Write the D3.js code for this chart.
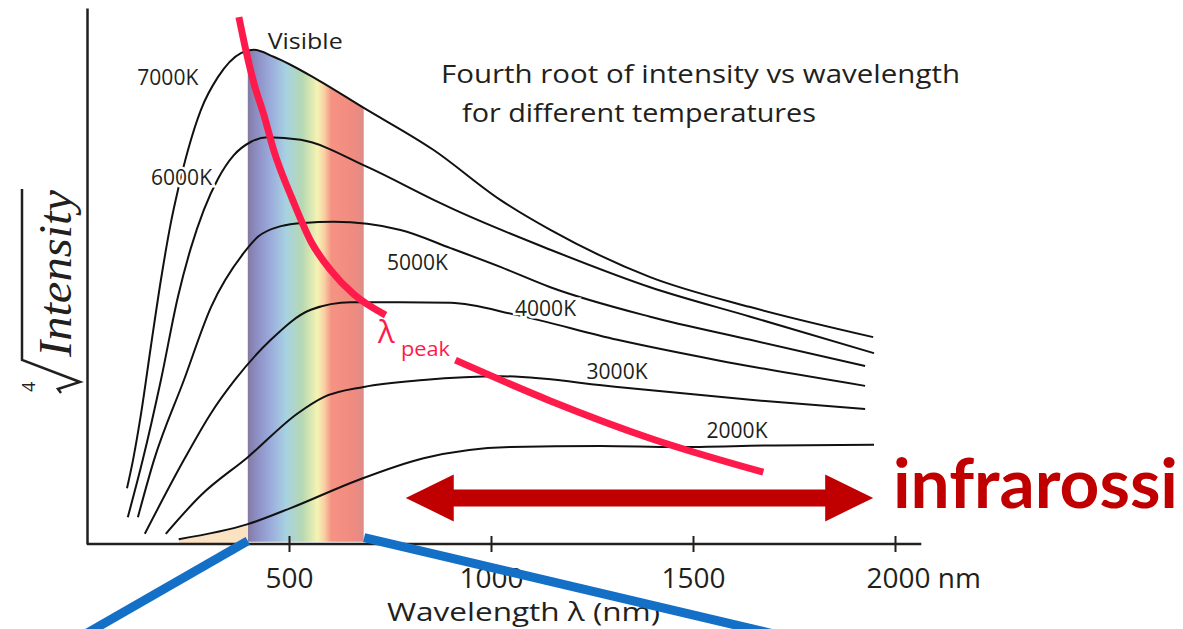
<!DOCTYPE html>
<html>
<head>
<meta charset="utf-8">
<script src="https://cdn.jsdelivr.net/npm/d3@7"></script>
<style>
  body { margin: 0; background: #fff; }
  svg { display: block; }
</style>
</head>
<body>
<svg id="chart" width="1183" height="629"></svg>
<script>
// Fourth root of intensity vs wavelength
// each point is [wavelength nm, relative 4th-root intensity 0..100]
const curve7000 = [[99,10.4],[114,15.7],[134,24.4],[158,36.8],[183,49.3],[208,60.1],[225,66.0],[250,73.5],[282,81.0],[324,87.1],[381,91.6],[413,92.2],[462,90.9],[571,86.6],[682,81.5],[858,73.5],[1023,64.2],[1147,58.6],[1394,49.8],[1642,44.2],[1946,38.6]];
const curve6000 = [[101,5.0],[138,15.7],[183,30.6],[225,46.1],[257,55.2],[289,62.3],[324,68.1],[363,72.5],[405,75.0],[447,75.9],[529,75.4],[695,70.3],[858,64.2],[900,62.7],[1147,54.9],[1394,47.9],[1642,42.4],[1948,35.6]];
const curve5000 = [[126,5.0],[166,15.7],[240,30.6],[307,44.2],[388,54.3],[423,57.3],[480,59.3],[536,59.9],[611,60.1],[776,58.6],[900,55.2],[1023,51.7],[1147,47.9],[1394,42.4],[1642,38.1],[1926,33.2]];
const curve4000 = [[143,1.9],[240,15.7],[307,24.4],[366,30.6],[455,38.1],[554,43.7],[653,45.1],[776,45.1],[900,45.0],[1065,42.7],[1313,38.1],[1560,34.3],[1926,29.5]];
const curve3000 = [[195,1.9],[282,9.1],[398,16.2],[522,24.4],[586,27.4],[685,29.3],[833,30.6],[1023,31.3],[1313,29.3],[1642,26.9],[1926,25.2]];
const curve2000 = [[227,0.9],[398,3.7],[504,6.7],[670,11.9],[833,16.0],[1048,18.1],[1271,18.3],[1459,18.1],[1700,18.4],[1948,18.5]];

const temperatures = ['7000K', '6000K', '5000K', '4000K', '3000K', '2000K'];
const curves = [curve7000, curve6000, curve5000, curve4000, curve3000, curve2000];
// where each temperature label sits: [wavelength, value] of its baseline centre
const labelAnchors = [[200,85.6],[234,67.0],[818,51.1],[1135,42.5],[1312,30.8],[1609,19.8]];

// peak wavelength locus, drawn in two pieces around the lambda_peak label
const peakUpper = [[376,98.3],[393,92.2],[413,86.0],[438,80.0],[462,73.5],[509,64.2],[556,56.2],[603,51.1],[660,46.6],[739,42.7]];
const peakLower = [[912,34.3],[1147,26.7],[1399,19.6],[1674,13.4]];

const visibleRange = [398, 685];
const xTicks = [500, 1000, 1500, 2000];
const xAxisEnd = 2065;
const infraredArrow = [789, 1946];
const infraredLevel = 8.6;
// zoom lines from the visible band down to the page edge
const zoomLeft = [[398,0.6],[-20,-17.5]];
const zoomRight = [[686,1.2],[1740,-17.5]];

const svg = d3.select('#chart');
const font = "'Open Sans', 'DejaVu Sans', sans-serif";
const ink = '#221f1c';

const x = d3.scaleLinear().domain([0, 2000]).range([87, 895]);
const y = d3.scaleLinear().domain([0, 100]).range([544, 8]);

const defs = svg.append('defs');
const grad = defs.append('linearGradient').attr('id', 'spectrum')
  .attr('gradientUnits', 'userSpaceOnUse')
  .attr('x1', x(visibleRange[0])).attr('x2', x(visibleRange[1]))
  .attr('y1', 0).attr('y2', 0);
[[0, '#837aa3'], [0.08, '#8e8fc4'], [0.2, '#9cacdc'], [0.33, '#a7d2e2'], [0.47, '#b6d8b2'],
 [0.6, '#f5f3b3'], [0.66, '#f9cfa3'], [0.72, '#f59383'], [0.9, '#f18b80'], [1, '#e08c88']]
  .forEach(function (s) { grad.append('stop').attr('offset', s[0]).attr('stop-color', s[1]); });

defs.append('clipPath').attr('id', 'visClip').append('rect')
  .attr('x', x(visibleRange[0])).attr('width', x(visibleRange[1]) - x(visibleRange[0]))
  .attr('y', 0).attr('height', 629);
defs.append('clipPath').attr('id', 'uvClip').append('rect')
  .attr('x', x(curve2000[0][0])).attr('width', x(visibleRange[0]) - x(curve2000[0][0]))
  .attr('y', 0).attr('height', 629);

const smooth = d3.curveMonotoneX;
const line = d3.line().x(function (d) { return x(d[0]); }).y(function (d) { return y(d[1]); }).curve(smooth);
const bandArea = d3.area().x(function (d) { return x(d[0]); }).y0(y(0.4)).y1(function (d) { return y(d[1]); }).curve(smooth);

// visible spectrum under the hottest curve
svg.append('path').datum(curve7000)
  .attr('clip-path', 'url(#visClip)')
  .attr('fill', 'url(#spectrum)')
  .attr('d', bandArea);

// faint peach patch under the 2000K curve left of the band
svg.append('path').datum(curve2000)
  .attr('clip-path', 'url(#uvClip)')
  .attr('fill', '#fbe2c3')
  .attr('d', d3.area().x(function (d) { return x(d[0]); }).y0(y(0.2)).y1(function (d) { return y(d[1]); }).curve(smooth));

// axes
const xAxis = svg.append('g')
  .attr('transform', `translate(0,${y(0)})`)
  .call(d3.axisBottom(x).tickValues(xTicks).tickSize(8).tickFormat(function (d) { return d === 2000 ? '2000 nm' : d; }));
xAxis.select('.domain').remove();
xAxis.selectAll('.tick line').attr('y1', -8).attr('y2', 8).attr('stroke', ink).attr('stroke-width', 2);
xAxis.selectAll('.tick text')
  .attr('y', 44).attr('dy', 0)
  .attr('fill', ink)
  .style('font-family', font).style('font-size', '28px')
  .attr('text-anchor', function (d) { return d === 2000 ? 'start' : 'middle'; })
  .attr('x', function (d) { return d === 2000 ? -29 : 0; });

svg.append('line')
  .attr('x1', x(0)).attr('x2', x(xAxisEnd))
  .attr('y1', y(0)).attr('y2', y(0))
  .attr('stroke', ink).attr('stroke-width', 2.5);

const yAxis = svg.append('g')
  .attr('transform', `translate(${x(0)},0)`)
  .call(d3.axisLeft(y).tickValues([]).tickSizeOuter(0));
yAxis.select('.domain').attr('stroke', ink).attr('stroke-width', 2.5);

// temperature curves
svg.selectAll('.temp')
  .data(curves)
  .enter().append('path')
  .attr('class', 'temp')
  .attr('fill', 'none')
  .attr('stroke', '#111')
  .attr('stroke-width', 2)
  .attr('d', line);

// peak locus
[peakUpper, peakLower].forEach(function (seg) {
  svg.append('path').datum(seg)
    .attr('fill', 'none')
    .attr('stroke', '#ff1a4c')
    .attr('stroke-width', 7)
    .attr('d', line);
});

// temperature labels, with a white knockout like the original
svg.selectAll('.tlabel')
  .data(temperatures)
  .enter().append('text')
  .attr('class', 'tlabel')
  .attr('x', function (d, i) { return x(labelAnchors[i][0]); })
  .attr('y', function (d, i) { return y(labelAnchors[i][1]); })
  .attr('text-anchor', 'middle')
  .attr('textLength', 61).attr('lengthAdjust', 'spacingAndGlyphs')
  .style('font-family', font).style('font-size', '21px')
  .attr('fill', ink)
  .attr('stroke', '#fff').attr('stroke-width', 5).attr('paint-order', 'stroke')
  .text(function (d) { return d; });

svg.append('text')
  .attr('x', x(540)).attr('y', y(92.4))
  .attr('text-anchor', 'middle')
  .attr('textLength', 75).attr('lengthAdjust', 'spacingAndGlyphs')
  .style('font-family', font).style('font-size', '22px')
  .attr('fill', ink)
  .text('Visible');

svg.append('text')
  .attr('x', x(720)).attr('y', y(37.5))
  .style('font-family', font).style('font-size', '31px')
  .attr('fill', '#ff1a4c')
  .text('λ');
svg.append('text')
  .attr('x', x(777)).attr('y', y(35.1))
  .attr('textLength', 49).attr('lengthAdjust', 'spacingAndGlyphs')
  .style('font-family', font).style('font-size', '20px')
  .attr('fill', '#ff1a4c')
  .text('peak');

// title
svg.append('text')
  .attr('x', 441).attr('y', 83)
  .attr('textLength', 519).attr('lengthAdjust', 'spacingAndGlyphs')
  .style('font-family', font).style('font-size', '25px')
  .attr('fill', ink)
  .text('Fourth root of intensity vs wavelength');
svg.append('text')
  .attr('x', 462).attr('y', 122)
  .attr('textLength', 354).attr('lengthAdjust', 'spacingAndGlyphs')
  .style('font-family', font).style('font-size', '25px')
  .attr('fill', ink)
  .text('for different temperatures');

// x axis title
svg.append('text')
  .attr('x', 387).attr('y', 621)
  .attr('textLength', 273).attr('lengthAdjust', 'spacingAndGlyphs')
  .style('font-family', font).style('font-size', '25px')
  .attr('fill', ink)
  .text('Wavelength  λ  (nm)');

// y axis title: 4th root of Intensity
const yTitle = svg.append('g').attr('transform', 'translate(71,357) rotate(-90)');
yTitle.append('text')
  .attr('x', 0).attr('y', 0)
  .attr('textLength', 167).attr('lengthAdjust', 'spacingAndGlyphs')
  .style('font-family', "'Liberation Serif', 'DejaVu Serif', serif")
  .style('font-style', 'italic')
  .style('font-size', '46px')
  .attr('fill', ink)
  .text('Intensity');
yTitle.append('path')
  .attr('d', 'M-36,-10 L-32,-13 L-25,9 L-3,-49 L168,-49')
  .attr('fill', 'none').attr('stroke', ink).attr('stroke-width', 2.5).attr('stroke-linejoin', 'miter');
yTitle.append('text')
  .attr('x', -35).attr('y', -36)
  .style('font-family', font).style('font-size', '18px')
  .attr('fill', ink)
  .text('4');

// infrared arrow
const ax0 = x(infraredArrow[0]), ax1 = x(infraredArrow[1]), ay = y(infraredLevel);
const headL = 48, headH = 23.5, shaftH = 8.5;
svg.append('path')
  .attr('fill', '#c00000')
  .attr('d', [
    'M', ax0, ay,
    'L', ax0 + headL, ay - headH,
    'L', ax0 + headL, ay - shaftH,
    'L', ax1 - headL, ay - shaftH,
    'L', ax1 - headL, ay - headH,
    'L', ax1, ay,
    'L', ax1 - headL, ay + headH,
    'L', ax1 - headL, ay + shaftH,
    'L', ax0 + headL, ay + shaftH,
    'L', ax0 + headL, ay + headH, 'Z'].join(' '));

svg.append('text')
  .attr('x', 893).attr('y', 508)
  .attr('textLength', 285).attr('lengthAdjust', 'spacingAndGlyphs')
  .style('font-family', "Lato, 'Open Sans', sans-serif")
  .style('font-weight', 'bold')
  .style('font-size', '68px')
  .attr('fill', '#c00000')
  .text('infrarossi');

// blue zoom lines on top
[zoomLeft, zoomRight].forEach(function (seg) {
  svg.append('path').datum(seg)
    .attr('fill', 'none')
    .attr('stroke', '#1470c6')
    .attr('stroke-width', 9)
    .attr('d', d3.line().x(function (d) { return x(d[0]); }).y(function (d) { return y(d[1]); }));
});
</script>
</body>
</html>
